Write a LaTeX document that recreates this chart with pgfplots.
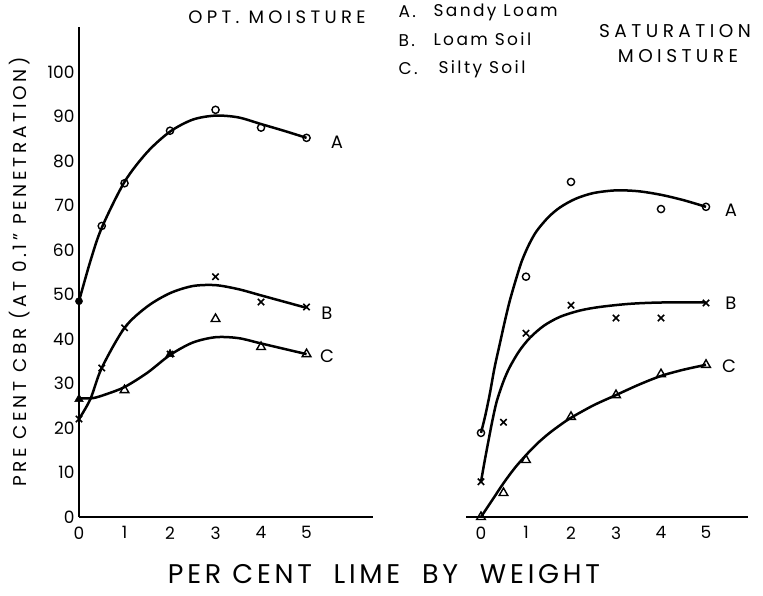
\documentclass[border=0pt]{standalone}
\usepackage{fontspec}
\setmainfont{Poppins}
\newfontfamily\wide[LetterSpace=14]{Poppins}
\newfontfamily\titlef[LetterSpace=24]{Poppins}
\newfontfamily\legf[LetterSpace=14]{Poppins}
\newfontfamily\ylabf[LetterSpace=20]{Poppins}
\usepackage{pgfplots}
\pgfplotsset{compat=1.18}
\pgfplotsset{
  cbr/.style={scale only axis, height=489.5pt, ymin=0, ymax=110,
    axis line style={line width=1.8pt}, major tick length=0pt,
    xtick={0,1,2,3,4,5},
    tick label style={font=\fontsize{17}{17}\selectfont},
    /pgf/number format/assume math mode=true,
    xticklabel style={yshift=-6pt},
    clip=false},
  curve/.style={smooth, no marks, line width=2.5pt, black},
  mo/.style={only marks, mark=o, mark size=3.6pt, mark options={line width=1.4pt, fill=white}, black},
  mx/.style={only marks, mark=x, mark size=4.5pt, mark options={line width=1.6pt}, black},
  mt/.style={only marks, mark=triangle, mark size=5pt, mark options={line width=1.4pt, fill=white}, black},
}
\begin{document}
\begin{tikzpicture}[x=1pt,y=1pt]
\useasboundingbox (0,0) rectangle (763,595);
% ---------- left panel: optimum moisture ----------
\begin{axis}[cbr, at={(79pt,78pt)}, anchor=south west, width=294pt,
  xmin=0, xmax=6.46, axis x line*=bottom, axis y line*=left,
  ytick={0,10,...,100}, yticklabel style={xshift=-1pt}]
\addplot[curve] coordinates {(0,48.5) (0.25,57.5) (0.5,65) (1,75.3) (1.5,82) (2,86.6) (2.5,89.3) (3,90.2) (3.5,89.8) (4,88.3) (4.5,86.8) (5,85.2)};
\addplot[curve] coordinates {(0,22) (0.25,26.5) (0.5,33.5) (1,42.5) (1.5,47.3) (2,50.3) (2.5,51.9) (3,52.1) (3.5,51.2) (4,49.8) (4.5,48.4) (5,47)};
\addplot[curve] coordinates {(0,26.7) (0.3,26.7) (0.6,27.6) (1,29.2) (1.5,32.4) (2,36.4) (2.5,39.2) (3,40.4) (3.5,40.2) (4,39) (4.5,37.8) (5,36.6)};
\addplot[only marks, mark=*, mark size=3.6pt, black] coordinates {(0,48.5)};
\addplot[mo] coordinates {(0.5,65.4) (1,75) (2,86.8) (3,91.5) (4,87.5) (5,85.2)};
\addplot[mx] coordinates {(0,22) (0.5,33.5) (1,42.5) (2,36.6) (3,54) (4,48.3) (5,47.2)};
\addplot[only marks, mark=triangle*, mark size=5pt, black] coordinates {(0,26.5) (2,36.6)};
\addplot[mt] coordinates {(1,28.5) (3,44.5) (4,38.2) (5,36.6)};
\end{axis}
% ---------- right panel: saturation moisture ----------
\begin{axis}[cbr, at={(466pt,78pt)}, anchor=south west, width=282pt,
  xmin=-0.333, xmax=5.933, axis x line*=bottom, axis y line=none]
\addplot[curve] coordinates {(0,18.9) (0.1,23) (0.2,27.9) (0.3,33.5) (0.42,39) (0.53,44) (0.64,48.6) (0.78,53.5) (0.91,57.6) (1.07,61.3) (1.24,64.3) (1.5,67.4) (1.76,69.6) (2.1,71.5) (2.5,72.8) (3,73.4) (3.5,73.2) (4,72.4) (4.5,71.2) (5,69.7)};
\addplot[curve] coordinates {(0,7.9) (0.08,12.5) (0.16,16.8) (0.25,21.5) (0.35,26) (0.5,30.5) (0.64,33.7) (0.85,37.3) (1.09,40.3) (1.4,43) (1.76,45) (2.2,46.4) (2.64,47.2) (3.3,47.9) (4,48.2) (5,48.2)};
\addplot[curve] coordinates {(0,0) (0.25,3.8) (0.5,7.6) (0.75,11) (1,13.9) (1.25,16.5) (1.5,18.7) (1.75,20.6) (2,22.3) (2.5,25.1) (3,27.4) (3.5,29.7) (4,31.7) (4.5,33.1) (5,34.2)};
\addplot[mo] coordinates {(0,18.9) (1,54) (2,75.3) (4,69.2) (5,69.7)};
\addplot[mx] coordinates {(0,7.9) (0.5,21.3) (1,41.3) (2,47.6) (3,44.7) (4,44.7) (5,48.1)};
\addplot[mt] coordinates {(0,0) (0.5,5.4) (1,12.8) (2,22.5) (3,27.4) (4,32.1) (5,34.2)};
\end{axis}
% ---------- texts ----------
\node[font=\titlef\fontsize{18}{18}\selectfont] at (277,578) {OPT. MOISTURE};
\node[font=\legf\fontsize{17}{17}\selectfont, anchor=base west] at (395,577) {A.};
\node[font=\legf\fontsize{17}{17}\selectfont, anchor=base west] at (395,548) {B.};
\node[font=\legf\fontsize{17}{17}\selectfont, anchor=base west] at (395,520) {C.};
\node[font=\legf\fontsize{17}{17}\selectfont, anchor=base west] at (430,578) {Sandy Loam};
\node[font=\legf\fontsize{17}{17}\selectfont, anchor=base west] at (430,549) {Loam Soil};
\node[font=\legf\fontsize{17}{17}\selectfont, anchor=base west] at (435,521) {Silty Soil};
\node[font=\titlef\fontsize{18.5}{18.5}\selectfont] at (675,564) {SATURATION};
\node[font=\titlef\fontsize{18.5}{18.5}\selectfont] at (678,539) {MOISTURE};
\node[font=\wide\fontsize{27}{27}\selectfont] at (384,21) {PER CENT\hspace{0.8em}LIME\hspace{0.4em} BY\hspace{0.4em} WEIGHT};
\node[font=\ylabf\fontsize{18.5}{18.5}\selectfont, rotate=90] at (20,323) {PRE CENT CBR (AT 0.1{\char"201D} PENETRATION)};
\node[font=\fontsize{18}{18}\selectfont] at (337,453) {A};
\node[font=\fontsize{18}{18}\selectfont] at (327,282) {B};
\node[font=\fontsize{18}{18}\selectfont] at (327,239) {C};
\node[font=\fontsize{18}{18}\selectfont] at (731,385) {A};
\node[font=\fontsize{18}{18}\selectfont] at (731,292) {B};
\node[font=\fontsize{18}{18}\selectfont] at (729,229) {C};
\end{tikzpicture}
\end{document}
